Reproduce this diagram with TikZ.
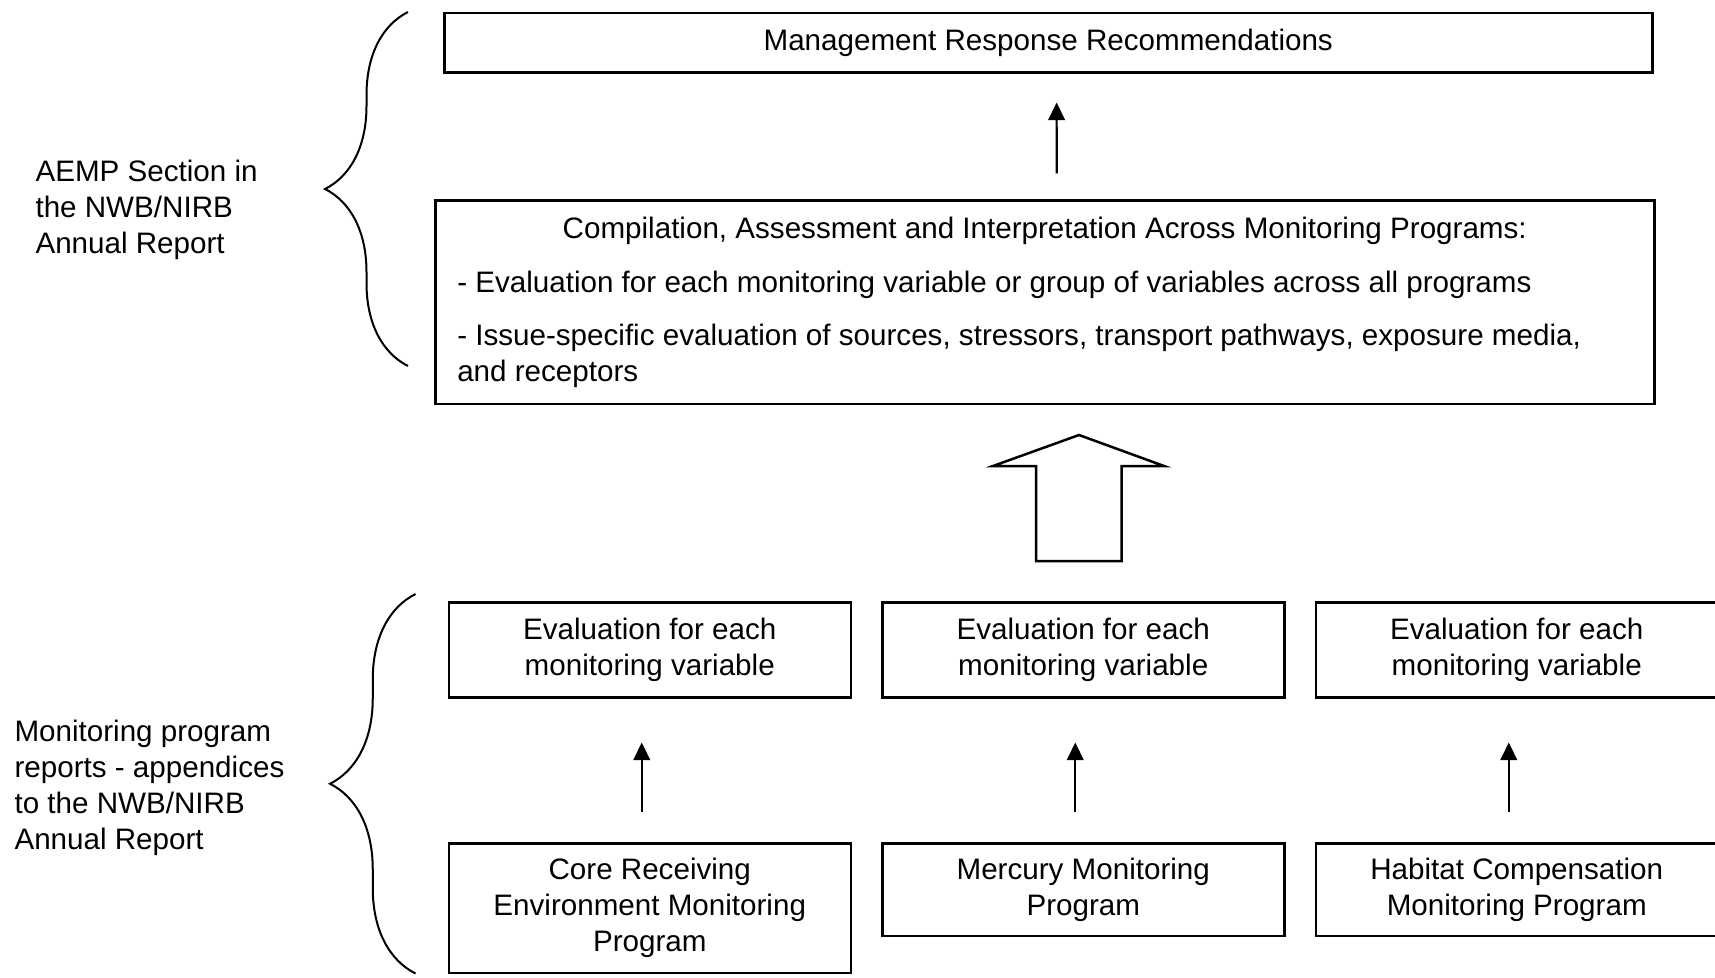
\documentclass[tikz,border=0pt]{standalone}
\usepackage{fontspec}
\setmainfont{Liberation Sans}
\usetikzlibrary{arrows.meta,positioning,decorations.pathreplacing}

\begin{document}
\begin{tikzpicture}[
			x=1pt, y=-1pt,
			font=\fontsize{29.6}{36}\selectfont,
			box/.style={draw, line width=2.5pt, inner sep=0pt, align=center, anchor=north west},
			evalbox/.style={box, minimum width=402pt, minimum height=95pt},
			progbox/.style={box, minimum width=402pt, minimum height=92.5pt},
			up/.style={-{Triangle[length=17.7pt,width=16.7pt]}, line width=2.2pt},
			brc/.style={decorate, line width=2pt, decoration={brace, amplitude=#1}},
			fatarrow/.style={draw, line width=2.5pt, line join=miter}
		]
		\clip (0,0) rectangle (1715,977);

		\node[box, minimum width=1208pt, minimum height=59.5pt] (mrr) at (443,11.5) {Management Response Recommendations};

		\node[box, minimum width=1219pt, minimum height=203.5pt, inner xsep=22pt, text width=1175pt, align=none] (cai) at (434,199) {%
			\setlength{\parskip}{16.5pt}%
			\centering Compilation, Assessment and Interpretation Across Monitoring Programs:\par
			\vspace{2.2pt}%
			\raggedright - Evaluation for each monitoring variable or group of variables across all programs\par
			- Issue-specific evaluation of sources, stressors, transport pathways, exposure media,\\
			and receptors\par
			\vspace{-4.4pt}};

		\node[evalbox] (e1) at (447.5,601) {Evaluation for each\\monitoring variable};
		\node[evalbox, right=29pt of e1.north east, anchor=north west] (e2) {Evaluation for each\\monitoring variable};
		\node[evalbox, right=29pt of e2.north east, anchor=north west] (e3) {Evaluation for each\\monitoring variable};

		\node[progbox, minimum height=129.5pt] (p1) at (447.5,842) {Core Receiving\\Environment Monitoring\\Program};
		\node[progbox, right=29pt of p1.north east, anchor=north west] (p2) {Mercury Monitoring\\Program};
		\node[progbox, right=29pt of p2.north east, anchor=north west] (p3) {Habitat Compensation\\Monitoring Program};

		\node[align=left, anchor=west] (aemp) at (32,209.5) {AEMP Section in\\the NWB/NIRB\\Annual Report};
		\node[align=left, anchor=west] (mpr) at (11,788) {Monitoring program\\reports - appendices\\to the NWB/NIRB\\Annual Report};

		% braces
		\coordinate (b1) at (408,12);
		\coordinate (b2) at (408,366);
		\coordinate (b3) at (415.5,594);
		\coordinate (b4) at (415.5,973.5);
		\draw[brc=83pt] (b2) -- (b1);
		\draw[brc=85.5pt] (b4) -- (b3);

		% small arrows
		\draw[up, shorten <=25.6pt, shorten >=29pt] ([xshift=12pt]cai.north) -- ([xshift=8.3pt]mrr.south);
		\foreach \i in {1,2,3}
			\draw[up, shorten <=30pt, shorten >=44pt] ([xshift=-8pt]p\i.north) -- ([xshift=-8pt]e\i.south);

		% big hollow arrow
		\draw[fatarrow] (1036,561) -- (1036,466) -- (993,466) -- (1079,435) -- (1164,466)
			-- (1121.5,466) -- (1121.5,561) -- cycle;
	\end{tikzpicture}
\end{document}
